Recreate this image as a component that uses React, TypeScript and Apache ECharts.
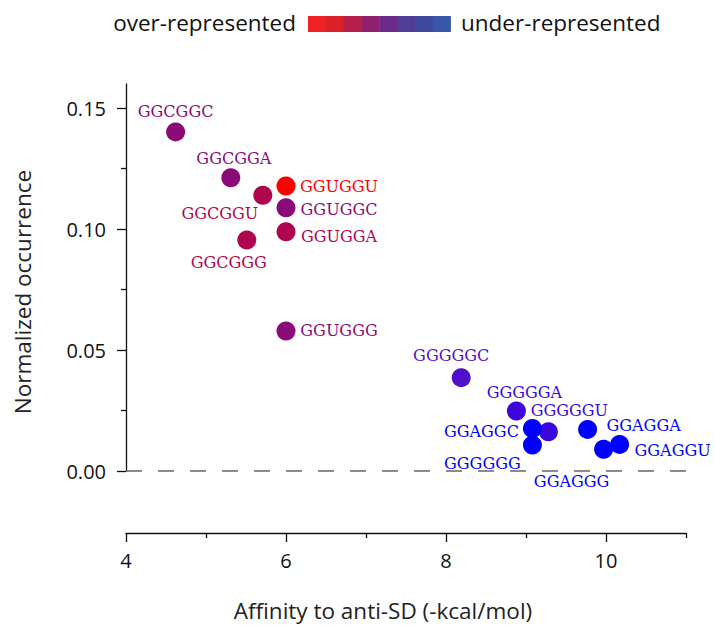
import React, { useEffect, useRef } from "react";
import * as echarts from "echarts";

// ---- data ----
const motifs = [
  "GGCGGC", "GGCGGA", "GGCGGU", "GGUGGU", "GGUGGC", "GGUGGA", "GGCGGG", "GGUGGG",
  "GGGGGC", "GGGGGA", "GGGGGU", "GGAGGC", "GGGGGG", "GGAGGA", "GGAGGG", "GGAGGU",
];
const affinity = [4.62, 5.31, 5.71, 6.0, 6.0, 6.0, 5.51, 6.0, 8.19, 8.88, 9.28, 9.08, 9.08, 9.77, 9.97, 10.17];
const occurrence = [
  0.1402, 0.1212, 0.114, 0.1178, 0.1088, 0.0989, 0.0955, 0.0579,
  0.0386, 0.0248, 0.0162, 0.0176, 0.0107, 0.0172, 0.009, 0.011,
];
// representation level: 1 = most over-represented ... 6 = most under-represented
const representation = [3, 3, 2, 1, 3, 2, 2, 3, 4, 5, 5, 6, 6, 6, 6, 6];

const xMajorTicks = [4, 6, 8, 10];
const xMinorTicks = [5, 7, 9, 11];
const yMajorTicks = [0, 0.05, 0.1, 0.15];
const yMinorTicks = [0.025, 0.075, 0.125];

// ---- styles ----
const levelColors: Record<number, string> = {
  1: "#FF0000",
  2: "#B0054F",
  3: "#8A0A78",
  4: "#500FC8",
  5: "#3A06DC",
  6: "#0000FF",
};
const legendSwatches = ["#EE2224", "#DB2128", "#B51F4B", "#8F206F", "#6C2B8B", "#513C96", "#3F4A9E", "#3A56A6"];
const labelOffsets: Record<string, [number, number]> = {
  GGCGGC: [0, -20],
  GGCGGA: [3, -19],
  GGCGGU: [-43, 18],
  GGUGGU: [53, 0],
  GGUGGC: [53, 2],
  GGUGGA: [53, 5],
  GGCGGG: [-18, 22],
  GGUGGG: [53, 0],
  GGGGGC: [-10, -22],
  GGGGGA: [8, -19],
  GGGGGU: [21, -21],
  GGAGGC: [-51, 3],
  GGGGGG: [-50, 18],
  GGAGGA: [56, -4],
  GGAGGG: [-32, 32],
  GGAGGU: [53, 6],
};

const sans = "'Open Sans', 'Noto Sans', sans-serif";
const gridBox = { left: 126, right: 29, top: 84, bottom: 158 };

export default function App() {
  const ref = useRef<HTMLDivElement>(null);
  useEffect(() => {
    document.body.style.margin = "0";
    if (!ref.current) return;
    const chart = echarts.init(ref.current, undefined, { renderer: "svg" });

    const data = motifs.map((name, i) => {
      const color = levelColors[representation[i]];
      return {
        name,
        value: [affinity[i], occurrence[i]],
        itemStyle: { color, opacity: 1 },
        label: {
          show: true,
          position: "inside",
          offset: labelOffsets[name] || [0, 0],
          formatter: name,
          color,
          fontFamily: "'DejaVu Serif', serif",
          fontSize: 16,
        },
      };
    });

    const legendGraphics: any[] = [
      {
        type: "text",
        x: 296,
        y: 22,
        style: {
          text: "over-represented",
          align: "right",
          verticalAlign: "middle",
          font: `22.5px ${sans}`,
          fill: "#111",
        },
      },
      {
        type: "text",
        x: 461,
        y: 22,
        style: {
          text: "under-represented",
          align: "left",
          verticalAlign: "middle",
          font: `22.5px ${sans}`,
          fill: "#111",
        },
      },
      ...legendSwatches.map((c, i) => ({
        type: "rect",
        shape: { x: 308 + i * 17.8, y: 16, width: 18.3, height: 16 },
        style: { fill: c },
      })),
      {
        type: "text",
        x: 383,
        y: 610,
        style: {
          text: "Affinity to anti-SD (-kcal/mol)",
          align: "center",
          verticalAlign: "middle",
          font: `22.5px ${sans}`,
          fill: "#222",
        },
      },
      {
        type: "text",
        x: 22,
        y: 292,
        rotation: Math.PI / 2,
        style: {
          text: "Normalized occurrence",
          align: "center",
          verticalAlign: "middle",
          font: `22.5px ${sans}`,
          fill: "#222",
        },
      },
    ];

    const axisLineStyle = { color: "#111", width: 1.3 };

    chart.setOption({
      animation: false,
      backgroundColor: "#fff",
      grid: [{ ...gridBox }, { ...gridBox }],
      xAxis: [
        {
          type: "value",
          gridIndex: 0,
          min: 4,
          max: 11,
          position: "bottom",
          offset: 62,
          axisLine: { show: true, onZero: false, lineStyle: axisLineStyle },
          axisTick: { show: true, customValues: xMajorTicks, length: 9, lineStyle: axisLineStyle },
          axisLabel: {
            customValues: xMajorTicks,
            margin: 17,
            fontSize: 20,
            fontFamily: sans,
            color: "#111",
          },
          splitLine: { show: false },
        },
        {
          type: "value",
          gridIndex: 1,
          min: 4,
          max: 11,
          position: "bottom",
          offset: 62,
          axisLine: { show: false, onZero: false },
          axisTick: { show: true, customValues: xMinorTicks, length: 5, lineStyle: axisLineStyle },
          axisLabel: { show: false },
          splitLine: { show: false },
        },
      ],
      yAxis: [
        {
          type: "value",
          gridIndex: 0,
          min: 0,
          max: 0.16,
          axisLine: { show: true, onZero: false, lineStyle: axisLineStyle },
          axisTick: { show: true, customValues: yMajorTicks, length: 9, lineStyle: axisLineStyle },
          axisLabel: {
            customValues: yMajorTicks,
            formatter: (v: number) => v.toFixed(2),
            margin: 20,
            fontSize: 20,
            fontFamily: sans,
            color: "#111",
          },
          splitLine: { show: false },
        },
        {
          type: "value",
          gridIndex: 1,
          min: 0,
          max: 0.16,
          axisLine: { show: false, onZero: false },
          axisTick: { show: true, customValues: yMinorTicks, length: 5, lineStyle: axisLineStyle },
          axisLabel: { show: false },
          splitLine: { show: false },
        },
      ],
      graphic: legendGraphics,
      series: [
        {
          type: "scatter",
          xAxisIndex: 0,
          yAxisIndex: 0,
          symbolSize: 19,
          data,
          z: 3,
          markLine: {
            silent: true,
            symbol: "none",
            label: { show: false },
            lineStyle: { color: "#666", width: 1.5, type: [16, 16] },
            data: [{ yAxis: 0 }],
          },
        },
      ],
    });

    return () => chart.dispose();
  }, []);

  return <div ref={ref} style={{ width: 715, height: 629 }} />;
}
